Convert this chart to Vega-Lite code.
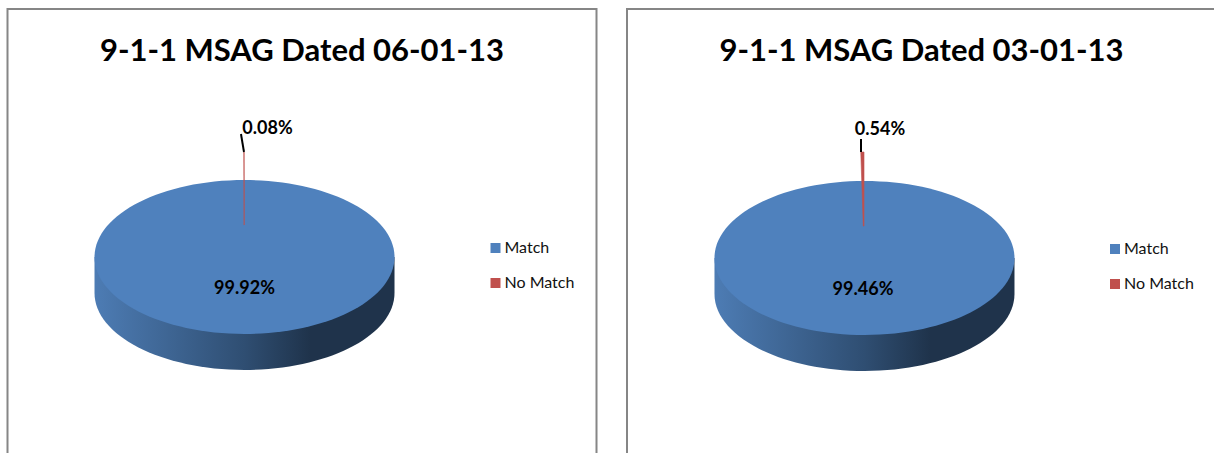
{"$schema":"https://vega.github.io/schema/vega-lite/v6.json","background":"white","padding":{"left":6.5,"top":8,"right":0,"bottom":0},"autosize":{"type":"pad"},"spacing":28.5,"datasets":{"june":[{"category":"Match","share":0.9992},{"category":"No Match","share":0.0008}],"march":[{"category":"Match","share":0.9946},{"category":"No Match","share":0.0054}]},"config":{"view":{"stroke":"#868686","strokeWidth":2},"font":"Lato","title":{"font":"Lato","fontSize":31,"fontWeight":"bold","color":"#000000","anchor":"middle","offset":-59},"legend":{"title":null,"orient":"none","legendX":480,"legendY":231,"symbolType":"square","symbolSize":100,"symbolStrokeWidth":0,"labelFont":"Lato","labelFontSize":16,"labelColor":"#111111","rowPadding":19,"labelOffset":1}},"resolve":{"legend":{"color":"independent"}},"hconcat":[{"width":589,"height":460,"title":"9-1-1 MSAG Dated 06-01-13","data":{"name":"june"},"layer":[{"transform":[{"filter":"datum.category === 'Match'"}],"mark":{"type":"point","filled":true,"opacity":1,"size":90000,"shape":"M-1,0 L-1,0.24 A1,0.513 0 0,0 1,0.24 L1,0 Z","color":{"gradient":"linear","x1":0,"x2":1,"y1":0,"y2":0,"stops":[{"offset":0,"color":"#4d7cb4"},{"offset":0.5,"color":"#2f4e72"},{"offset":0.72,"color":"#1f334b"},{"offset":1,"color":"#1f334b"}]}},"encoding":{"x":{"datum":40.24,"type":"quantitative","scale":{"domain":[0,100]},"axis":null},"y":{"datum":53.91,"type":"quantitative","scale":{"domain":[100,0]},"axis":null}}},{"transform":[{"filter":"datum.category === 'Match'"}],"mark":{"type":"point","filled":true,"opacity":1,"size":90000,"shape":"M-1,0 A1,0.513 0 1,1 1,0 A1,0.513 0 1,1 -1,0 Z"},"encoding":{"x":{"datum":40.24,"type":"quantitative","scale":{"domain":[0,100]},"axis":null},"y":{"datum":53.91,"type":"quantitative","scale":{"domain":[100,0]},"axis":null},"color":{"field":"category","type":"nominal","scale":{"domain":["Match","No Match"],"range":["#4F81BD","#C0504D"]}}}},{"transform":[{"stack":"share","groupby":[],"sort":[{"field":"category","order":"ascending"}],"as":["start","end"]},{"filter":"datum.category === 'No Match'"}],"mark":{"type":"arc","outerRadius":73,"innerRadius":0,"stroke":"#C0504D","strokeWidth":0.6},"encoding":{"x":{"datum":40.18,"type":"quantitative","scale":{"domain":[0,100]},"axis":null},"y":{"datum":46.96,"type":"quantitative","scale":{"domain":[100,0]},"axis":null},"theta":{"field":"start","type":"quantitative","scale":{"domain":[0,1],"range":[0,6.2832]}},"theta2":{"field":"end"},"color":{"field":"category","type":"nominal","scale":{"domain":["Match","No Match"],"range":["#4F81BD","#C0504D"]}}}},{"transform":[{"filter":"datum.category === 'No Match'"}],"mark":{"type":"rule","color":"#000000","strokeWidth":2},"encoding":{"x":{"datum":39.64,"type":"quantitative","scale":{"domain":[0,100]},"axis":null},"y":{"datum":27.17,"type":"quantitative","scale":{"domain":[100,0]},"axis":null},"x2":{"datum":40.15},"y2":{"datum":31.09}}},{"transform":[{"filter":"datum.category === 'No Match'"}],"mark":{"type":"text","font":"Lato","fontSize":18,"fontWeight":"bold","color":"#000000","align":"center","baseline":"middle"},"encoding":{"x":{"datum":44.14,"type":"quantitative","scale":{"domain":[0,100]},"axis":null},"y":{"datum":26.08,"type":"quantitative","scale":{"domain":[100,0]},"axis":null},"text":{"field":"share","type":"quantitative","format":".2%"}}},{"transform":[{"filter":"datum.category === 'Match'"}],"mark":{"type":"text","font":"Lato","fontSize":18,"fontWeight":"bold","color":"#000000","align":"center","baseline":"middle"},"encoding":{"x":{"datum":40.24,"type":"quantitative","scale":{"domain":[0,100]},"axis":null},"y":{"datum":60.86,"type":"quantitative","scale":{"domain":[100,0]},"axis":null},"text":{"field":"share","type":"quantitative","format":".2%"}}}]},{"width":589,"height":460,"title":"9-1-1 MSAG Dated 03-01-13","data":{"name":"march"},"layer":[{"transform":[{"filter":"datum.category === 'Match'"}],"mark":{"type":"point","filled":true,"opacity":1,"size":90000,"shape":"M-1,0 L-1,0.24 A1,0.513 0 0,0 1,0.24 L1,0 Z","color":{"gradient":"linear","x1":0,"x2":1,"y1":0,"y2":0,"stops":[{"offset":0,"color":"#4d7cb4"},{"offset":0.5,"color":"#2f4e72"},{"offset":0.72,"color":"#1f334b"},{"offset":1,"color":"#1f334b"}]}},"encoding":{"x":{"datum":40.32,"type":"quantitative","scale":{"domain":[0,100]},"axis":null},"y":{"datum":54.13,"type":"quantitative","scale":{"domain":[100,0]},"axis":null}}},{"transform":[{"filter":"datum.category === 'Match'"}],"mark":{"type":"point","filled":true,"opacity":1,"size":90000,"shape":"M-1,0 A1,0.513 0 1,1 1,0 A1,0.513 0 1,1 -1,0 Z"},"encoding":{"x":{"datum":40.32,"type":"quantitative","scale":{"domain":[0,100]},"axis":null},"y":{"datum":54.13,"type":"quantitative","scale":{"domain":[100,0]},"axis":null},"color":{"field":"category","type":"nominal","scale":{"domain":["Match","No Match"],"range":["#4F81BD","#C0504D"]},"legend":{"legendY":232}}}},{"transform":[{"stack":"share","groupby":[],"sort":[{"field":"category","order":"ascending"}],"as":["start","end"]},{"filter":"datum.category === 'No Match'"}],"mark":{"type":"arc","outerRadius":96,"innerRadius":22,"stroke":"#C0504D","strokeWidth":0.6},"encoding":{"x":{"datum":40.24,"type":"quantitative","scale":{"domain":[0,100]},"axis":null},"y":{"datum":51.96,"type":"quantitative","scale":{"domain":[100,0]},"axis":null},"theta":{"field":"start","type":"quantitative","scale":{"domain":[0,1],"range":[0,6.2832]}},"theta2":{"field":"end"},"color":{"field":"category","type":"nominal","scale":{"domain":["Match","No Match"],"range":["#4F81BD","#C0504D"]}}}},{"transform":[{"filter":"datum.category === 'No Match'"}],"mark":{"type":"rule","color":"#000000","strokeWidth":2},"encoding":{"x":{"datum":39.73,"type":"quantitative","scale":{"domain":[0,100]},"axis":null},"y":{"datum":28.26,"type":"quantitative","scale":{"domain":[100,0]},"axis":null},"x2":{"datum":39.73},"y2":{"datum":31.09}}},{"transform":[{"filter":"datum.category === 'No Match'"}],"mark":{"type":"text","font":"Lato","fontSize":18,"fontWeight":"bold","color":"#000000","align":"center","baseline":"middle"},"encoding":{"x":{"datum":42.95,"type":"quantitative","scale":{"domain":[0,100]},"axis":null},"y":{"datum":26.2,"type":"quantitative","scale":{"domain":[100,0]},"axis":null},"text":{"field":"share","type":"quantitative","format":".2%"}}},{"transform":[{"filter":"datum.category === 'Match'"}],"mark":{"type":"text","font":"Lato","fontSize":18,"fontWeight":"bold","color":"#000000","align":"center","baseline":"middle"},"encoding":{"x":{"datum":40.07,"type":"quantitative","scale":{"domain":[0,100]},"axis":null},"y":{"datum":61.08,"type":"quantitative","scale":{"domain":[100,0]},"axis":null},"text":{"field":"share","type":"quantitative","format":".2%"}}}]}]}
